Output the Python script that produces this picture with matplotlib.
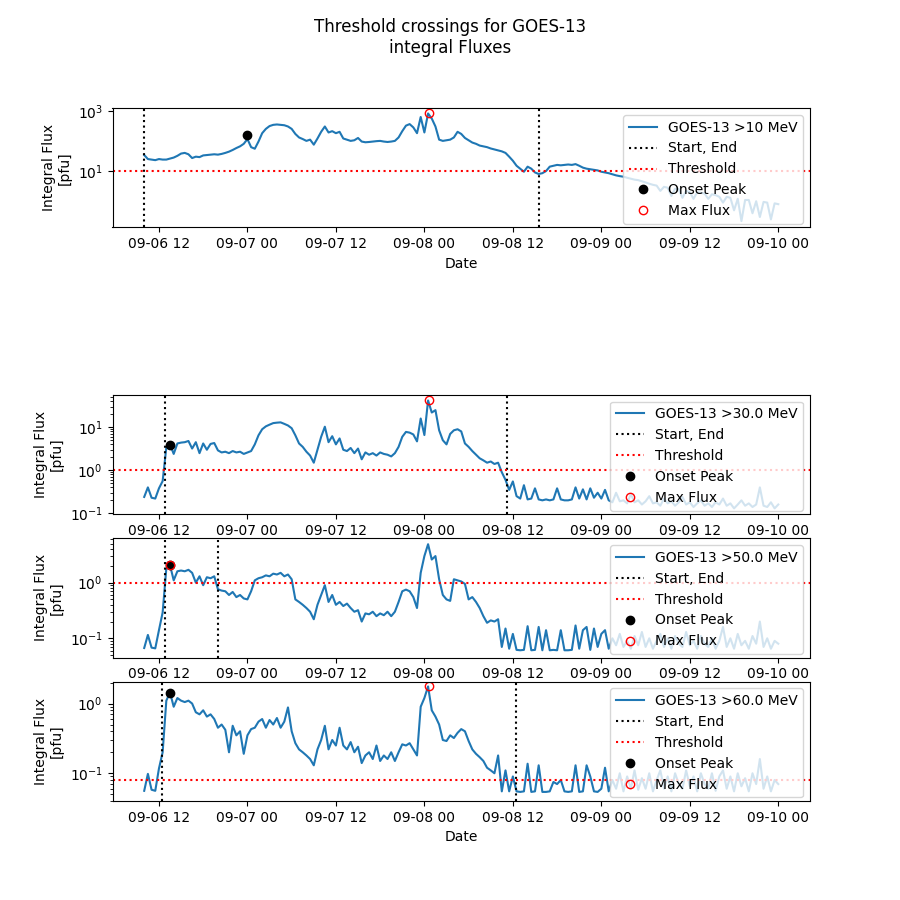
import numpy as np
import pandas as pd
import matplotlib
matplotlib.use("Agg")
import matplotlib.pyplot as plt
from matplotlib.ticker import FixedLocator, NullLocator, LogFormatterSciNotation

# ---- data (30-min cadence, 2017-09-06 10:00 to 2017-09-10 00:00) ----
times = pd.date_range("2017-09-06 10:00", "2017-09-10 00:00", freq="30min")

flux_10 = [34, 25, 24, 23, 25, 24, 24, 26, 28, 32, 38, 40, 36, 27, 30, 29, 33, 34, 35, 36,
           35, 37, 40, 44, 50, 58, 66, 80, 115, 62, 55, 95, 180, 250, 310, 340, 350, 340, 330, 300,
           250, 170, 130, 115, 100, 110, 75, 120, 200, 300, 190, 210, 180, 200, 120, 110, 100, 105, 125, 95,
           90, 92, 95, 98, 100, 95, 92, 95, 100, 130, 210, 320, 360, 280, 180, 620, 190, 810, 550, 300,
           110, 100, 105, 110, 130, 200, 170, 125, 105, 88, 80, 70, 66, 62, 56, 52, 48, 45, 40, 30,
           22, 15, 12, 9.5, 14, 12, 9, 8, 8.5, 10, 14, 15, 16, 15.5, 16, 16.5, 16, 17, 15, 13,
           12, 11.5, 11, 10.5, 9.5, 9, 8.5, 7.8, 7.2, 6.8, 6.5, 6.0, 5.6, 5.2, 5.0, 4.6, 4.2, 3.8, 3.5, 3.3,
           2.2, 3.0, 2.8, 1.5, 2.6, 2.5, 1.3, 2.2, 2.0, 1.2, 2.0, 1.9, 1.8, 1.2, 1.7, 1.6, 1.4, 0.9, 1.4, 1.3,
           0.5, 1.2, 0.22, 1.1, 1.1, 0.4, 1.0, 0.3, 0.95, 0.9, 0.25, 0.85, 0.8]

flux_30 = [0.24, 0.4, 0.23, 0.22, 0.38, 0.56, 3.4, 4.0, 2.4, 4.2, 4.4, 4.5, 4.8, 3.2, 4.5, 2.5, 4.2, 3.0, 4.1, 4.3,
           2.9, 2.6, 2.7, 2.5, 2.8, 2.6, 2.7, 2.4, 2.6, 2.8, 4.0, 6.5, 9.0, 10.5, 11.5, 12.5, 12.8, 13.0, 12.0, 11.0,
           9.5, 6.5, 4.2, 3.5, 2.7, 2.2, 1.5, 3.0, 6.0, 10.3, 4.5, 6.2, 4.0, 5.5, 3.0, 2.8, 3.3, 2.5, 3.2, 1.8,
           2.6, 2.3, 2.5, 2.2, 2.6, 2.4, 2.3, 2.1, 2.5, 3.5, 6.0, 7.8, 7.5, 6.8, 4.7, 16, 6.6, 42, 22, 25,
           8.5, 5.0, 4.0, 7.0, 8.5, 9.0, 8.0, 4.2, 3.5, 2.8, 2.3, 1.9, 1.7, 1.5, 1.6, 1.4, 1.5, 0.9, 0.6, 0.35,
           0.55, 0.25, 0.22, 0.45, 0.21, 0.22, 0.38, 0.21, 0.2, 0.21, 0.2, 0.21, 0.38, 0.21, 0.2, 0.2, 0.21, 0.4, 0.22, 0.36,
           0.21, 0.38, 0.23, 0.3, 0.22, 0.35, 0.2, 0.18, 0.3, 0.19, 0.2, 0.17, 0.28, 0.18, 0.2, 0.16, 0.19, 0.25, 0.17, 0.18,
           0.15, 0.22, 0.17, 0.19, 0.15, 0.18, 0.24, 0.16, 0.18, 0.14, 0.17, 0.2, 0.15, 0.17, 0.14, 0.18, 0.16, 0.22, 0.15, 0.17,
           0.13, 0.16, 0.2, 0.15, 0.17, 0.14, 0.16, 0.4, 0.15, 0.14, 0.18, 0.13, 0.16]

flux_50 = [0.067, 0.115, 0.068, 0.066, 0.14, 0.29, 1.8, 2.06, 1.1, 1.6, 1.65, 1.6, 1.7, 1.5, 1.0, 1.3, 0.9, 1.25, 1.2, 1.3,
           0.76, 0.72, 0.7, 0.6, 0.68, 0.55, 0.6, 0.52, 0.5, 0.7, 1.1, 1.2, 1.25, 1.35, 1.3, 1.45, 1.4, 1.5, 1.3, 1.4,
           1.15, 0.5, 0.45, 0.4, 0.35, 0.3, 0.22, 0.4, 0.6, 0.9, 0.45, 0.6, 0.4, 0.45, 0.38, 0.42, 0.35, 0.3, 0.32, 0.2,
           0.28, 0.27, 0.3, 0.25, 0.28, 0.26, 0.3, 0.25, 0.3, 0.45, 0.7, 0.75, 0.7, 0.55, 0.35, 1.5, 3.0, 4.9, 2.6, 3.0,
           1.15, 0.6, 0.5, 0.47, 1.15, 1.1, 1.05, 0.95, 0.5, 0.55, 0.45, 0.35, 0.25, 0.19, 0.21, 0.2, 0.22, 0.07, 0.15, 0.065,
           0.12, 0.062, 0.061, 0.062, 0.165, 0.061, 0.062, 0.16, 0.061, 0.14, 0.061, 0.062, 0.061, 0.14, 0.061, 0.061, 0.062, 0.17, 0.065, 0.14,
           0.16, 0.062, 0.15, 0.07, 0.12, 0.14, 0.065, 0.1, 0.075, 0.12, 0.07, 0.09, 0.065, 0.11, 0.075, 0.13, 0.07, 0.1, 0.065, 0.09,
           0.12, 0.07, 0.1, 0.065, 0.11, 0.08, 0.07, 0.13, 0.075, 0.09, 0.065, 0.11, 0.08, 0.07, 0.1, 0.065, 0.09, 0.16, 0.07, 0.1,
           0.065, 0.12, 0.075, 0.09, 0.065, 0.11, 0.08, 0.2, 0.07, 0.1, 0.065, 0.09, 0.08]

flux_60 = [0.056, 0.098, 0.058, 0.056, 0.117, 0.2, 1.1, 1.44, 0.9, 1.2, 1.1, 1.05, 1.1, 1.0, 0.75, 0.7, 0.8, 0.65, 0.7, 0.6,
           0.45, 0.5, 0.42, 0.2, 0.48, 0.35, 0.4, 0.19, 0.35, 0.43, 0.45, 0.55, 0.6, 0.45, 0.58, 0.5, 0.62, 0.45, 0.55, 0.88,
           0.4, 0.27, 0.22, 0.2, 0.18, 0.16, 0.13, 0.22, 0.3, 0.48, 0.22, 0.3, 0.25, 0.45, 0.25, 0.22, 0.28, 0.2, 0.24, 0.14,
           0.18, 0.2, 0.16, 0.25, 0.15, 0.18, 0.16, 0.2, 0.15, 0.2, 0.26, 0.25, 0.27, 0.22, 0.18, 0.9, 1.2, 1.76, 0.8, 0.65,
           0.5, 0.3, 0.29, 0.35, 0.32, 0.38, 0.43, 0.4, 0.29, 0.22, 0.19, 0.17, 0.15, 0.12, 0.11, 0.1, 0.18, 0.055, 0.11, 0.055,
           0.09, 0.055, 0.054, 0.055, 0.137, 0.054, 0.055, 0.13, 0.054, 0.054, 0.055, 0.075, 0.07, 0.08, 0.055, 0.054, 0.055, 0.13, 0.054, 0.055,
           0.13, 0.09, 0.055, 0.054, 0.06, 0.12, 0.055, 0.08, 0.06, 0.1, 0.055, 0.09, 0.06, 0.11, 0.058, 0.085, 0.06, 0.1, 0.055, 0.08,
           0.11, 0.06, 0.09, 0.055, 0.1, 0.07, 0.06, 0.11, 0.065, 0.09, 0.055, 0.1, 0.07, 0.06, 0.1, 0.056, 0.09, 0.11, 0.06, 0.09,
           0.055, 0.1, 0.065, 0.085, 0.055, 0.1, 0.07, 0.16, 0.06, 0.09, 0.055, 0.08, 0.07]

energies = ["10", "30.0", "50.0", "60.0"]
thresholds = [10, 1, 1, 0.079]
start_times = ["2017-09-06 10:00", "2017-09-06 12:52", "2017-09-06 12:52", "2017-09-06 12:27"]
end_times = ["2017-09-08 15:35", "2017-09-08 11:12", "2017-09-06 20:00", "2017-09-08 12:22"]
onset_times = ["2017-09-06 23:55", "2017-09-06 13:30", "2017-09-06 13:30", "2017-09-06 13:28"]
onset_values = [158, 3.9, 2.06, 1.44]
max_times = ["2017-09-08 00:40", "2017-09-08 00:35", "2017-09-06 13:30", "2017-09-08 00:35"]
max_values = [830, 42, 2.06, 1.76]
ylims = [(0.135, 1230), (0.095, 57), (0.045, 6.3), (0.040, 2.07)]

series = [flux_10, flux_30, flux_50, flux_60]

fig, axes = plt.subplots(5, 1, figsize=(9, 9), dpi=100)
fig.suptitle("Threshold crossings for GOES-13\nintegral Fluxes")
axes[1].set_visible(False)
plot_axes = [axes[0], axes[2], axes[3], axes[4]]

for i, ax in enumerate(plot_axes):
    ax.plot(times, series[i], label=f"GOES-13 >{energies[i]} MeV")
    ax.axvline(pd.Timestamp(start_times[i]), color="black", linestyle=":", label="Start, End")
    ax.axvline(pd.Timestamp(end_times[i]), color="black", linestyle=":")
    ax.axhline(thresholds[i], color="red", linestyle=":", label="Threshold")
    ax.plot([pd.Timestamp(onset_times[i])], [onset_values[i]], "o", color="black", label="Onset Peak")
    ax.plot([pd.Timestamp(max_times[i])], [max_values[i]], "o", markerfacecolor="none",
            markeredgecolor="red", label="Max Flux")
    ax.set_yscale("log")
    ax.set_ylim(*ylims[i])
    ax.set_ylabel("Integral Flux\n[pfu]")
    ax.legend(loc="upper right")

# top panel: every other decade labelled, no minor ticks
axes[0].yaxis.set_major_locator(FixedLocator([0.1, 10, 1000]))
axes[0].yaxis.set_major_formatter(LogFormatterSciNotation())
axes[0].yaxis.set_minor_locator(NullLocator())
axes[0].set_ylim(*ylims[0])

axes[0].set_xlabel("Date")
axes[4].set_xlabel("Date")

fig.savefig("out.png", dpi=100)
